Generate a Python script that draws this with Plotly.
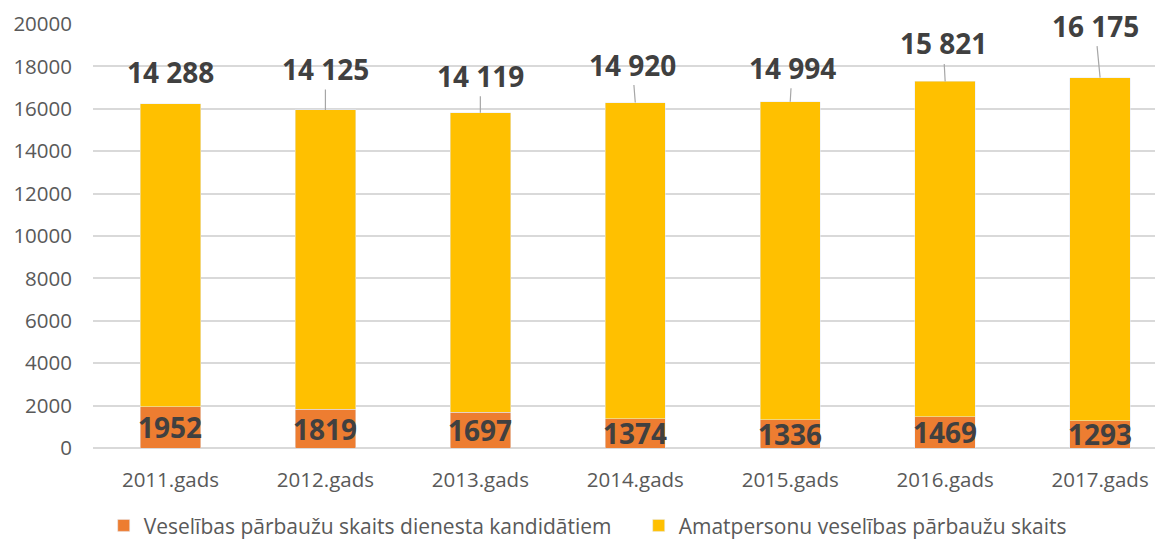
import plotly.graph_objects as go

categories = ["2011.gads", "2012.gads", "2013.gads", "2014.gads", "2015.gads", "2016.gads", "2017.gads"]
kandidati = [1952, 1819, 1697, 1374, 1336, 1469, 1293]
amatpersonas = [14288, 14125, 14119, 14920, 14994, 15821, 16175]
series_names = ["Veselības pārbaužu skaits dienesta kandidātiem", "Amatpersonu veselības pārbaužu skaits"]
y_ticks = [0, 2000, 4000, 6000, 8000, 10000, 12000, 14000, 16000, 18000, 20000]

# label placement offsets (pixels) for the top labels
label_dx = [0, 0, 0, -3, 2, -2, -5]
label_dy = [-32, -41, -37, -38, -34, -38, -52]

ORANGE = "#ED7D31"
YELLOW = "#FFC000"
FONT = "Open Sans"

fig = go.Figure()
fig.add_trace(go.Bar(x=list(range(len(categories))), y=kandidati, name=series_names[0],
                     marker_color=ORANGE, width=0.39, hoverinfo="skip"))
fig.add_trace(go.Bar(x=list(range(len(categories))), y=amatpersonas, name=series_names[1],
                     marker_color=YELLOW, width=0.39, hoverinfo="skip"))

def fmt(v):
    return f"{v:,}".replace(",", " ")

label_font = dict(family=FONT, size=28, color="#404040", weight="bold")
annotations = []
for i, (k, a) in enumerate(zip(kandidati, amatpersonas)):
    total = k + a
    show = abs(label_dy[i]) > 33
    if show:
        annotations.append(dict(x=i, y=total, xref="x", yref="y", text=fmt(a),
                                showarrow=True, arrowhead=0, arrowwidth=1.2, arrowcolor="#A6A6A6",
                                ax=label_dx[i], ay=label_dy[i], axref="pixel", ayref="pixel",
                                font=label_font))
    else:
        annotations.append(dict(x=i, y=total, xref="x", yref="y", text=fmt(a),
                                showarrow=False, xshift=label_dx[i], yshift=-label_dy[i],
                                font=label_font))
    annotations.append(dict(x=i, y=k / 2, xref="x", yref="y", text=str(k), showarrow=False,
                            yanchor="middle", font=label_font))

fig.update_layout(
    width=1163, height=541,
    margin=dict(l=85, r=8, t=16, b=101, autoexpand=False),
    barmode="stack",
    plot_bgcolor="white", paper_bgcolor="white",
    font=dict(family=FONT, color="#595959"),
    xaxis=dict(tickmode="array", tickvals=list(range(len(categories))), ticktext=categories,
               range=[-0.5, 6.406], showgrid=False, zeroline=False, showline=False,
               tickfont=dict(size=20.5, color="#595959"), ticks="", ticklabelstandoff=17),
    yaxis=dict(range=[0, 20000], tickvals=y_ticks, tickformat="d", showgrid=True,
               gridcolor="#D9D9D9", gridwidth=1.5, zeroline=True, zerolinecolor="#D9D9D9",
               zerolinewidth=1.5, tickfont=dict(size=20.5, color="#595959"), ticks="",
               ticklabelstandoff=20),
    legend=dict(orientation="h", x=0.01, y=-0.135, xanchor="left", yanchor="top",
                font=dict(size=21, color="#595959"), entrywidth=490, traceorder="normal"),
    annotations=annotations,
    showlegend=True,
)

fig.write_html("out.html")
